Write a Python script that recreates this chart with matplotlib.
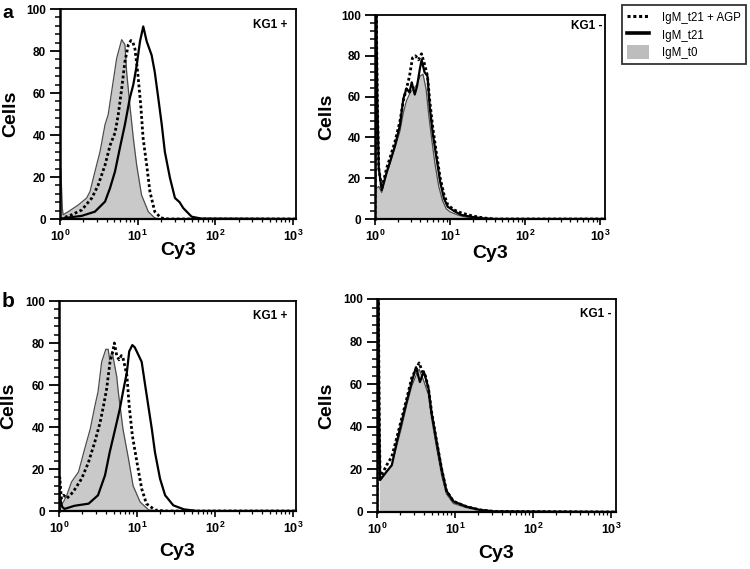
import numpy as np
import matplotlib
matplotlib.use('Agg')
import matplotlib.pyplot as plt
from matplotlib.ticker import MultipleLocator, FixedLocator, FixedFormatter, LogLocator, NullFormatter
from matplotlib.lines import Line2D
from matplotlib.patches import Patch

plt.rcParams['font.family'] = ['Liberation Sans', 'DejaVu Sans']
plt.rcParams['font.weight'] = 'bold'
plt.rcParams['mathtext.fontset'] = 'custom'
plt.rcParams['mathtext.rm'] = 'Liberation Sans:bold'
plt.rcParams['mathtext.bf'] = 'Liberation Sans:bold'

# ---------------- data (x in log10 Cy3 units, y = cells) ----------------
series_labels = ['IgM_t21 + AGP', 'IgM_t21', 'IgM_t0']
panel_titles = ['KG1 +', 'KG1 -', 'KG1 +', 'KG1 -']
x_tick_vals = [1, 10, 100, 1000]
x_tick_labels = [r'$\mathbf{10^{0}}$', r'$\mathbf{10^{1}}$', r'$\mathbf{10^{2}}$', r'$\mathbf{10^{3}}$']
y_tick_vals = [0, 20, 40, 60, 80, 100]

# panel a, KG1 +
a_pos_t0_log = [0.0, 0.01, 0.03, 0.04, 0.107, 0.236, 0.343, 0.386, 0.45, 0.515, 0.58, 0.62, 0.665,
                0.73, 0.794, 0.836, 0.858, 0.90, 0.944, 0.987, 1.05, 1.137, 1.22, 1.3, 3.05]
a_pos_t0_cells = [0, 24, 5, 2, 3.5, 6.7, 10, 13, 22.6, 32, 45, 49.6, 60.7,
                  76.6, 85.4, 83, 70, 54, 38.5, 25.7, 11.4, 3.5, 0.5, 0, 0]
a_pos_agp_log = [0.0, 0.04, 0.15, 0.28, 0.41, 0.49, 0.58, 0.644, 0.708, 0.75, 0.794, 0.836, 0.88,
                 0.914, 0.94, 0.965, 1.0, 1.04, 1.07, 1.116, 1.158, 1.22, 1.3, 1.4, 3.05]
a_pos_agp_cells = [0, 0.5, 2, 4.3, 10, 16, 25.7, 35, 41, 49.6, 62, 75, 83,
                   85, 84, 81, 70, 54, 38.5, 25.7, 13, 3.5, 0.5, 0, 0]
a_pos_t21_log = [0.0, 0.07, 0.28, 0.45, 0.58, 0.644, 0.708, 0.772, 0.836, 0.90, 0.944, 0.987, 1.03,
                 1.072, 1.116, 1.18, 1.22, 1.265, 1.31, 1.35, 1.416, 1.48, 1.54, 1.587, 1.695, 1.82, 3.05]
a_pos_t21_cells = [0, 0.5, 1.5, 3.5, 8.3, 14.7, 22.6, 34, 45, 57.7, 64, 73, 84.6,
                   91.7, 84.6, 78, 70, 57.7, 45, 32, 19.5, 10, 8, 5.2, 1.1, 0.2, 0]

# panel a, KG1 -
a_neg_t0_log = [0.02, 0.05, 0.09, 0.156, 0.2, 0.267, 0.333, 0.378, 0.42, 0.47, 0.52, 0.56, 0.6,
                0.64, 0.68, 0.72, 0.76, 0.8, 0.85, 0.9, 0.95, 1.0, 1.1, 1.2, 1.35, 1.5, 3.1]
a_neg_t0_cells = [15, 16, 13, 22, 27, 35, 43, 52, 58, 62, 64, 66, 70,
                  71, 64, 50, 38, 27, 16, 9, 5, 3.5, 2, 1, 0.3, 0, 0]
a_neg_agp_log = [0.0, 0.015, 0.03, 0.05, 0.09, 0.156, 0.2, 0.267, 0.333, 0.378, 0.42, 0.46, 0.5, 0.54,
                 0.58, 0.62, 0.66, 0.7, 0.73, 0.77, 0.82, 0.87, 0.92, 0.97, 1.05, 1.15, 1.3, 1.45, 1.6, 3.1]
a_neg_agp_cells = [0, 110, 60, 25, 15, 25, 30, 38, 48, 58, 64, 70, 79, 80,
                   78, 81, 76, 70, 58, 45, 32, 20, 12, 7, 4.5, 3, 1.5, 0.5, 0, 0]
a_neg_t21_log = [0.0, 0.015, 0.03, 0.05, 0.09, 0.156, 0.2, 0.267, 0.333, 0.378, 0.42, 0.46, 0.49, 0.53,
                 0.56, 0.6, 0.622, 0.66, 0.7, 0.73, 0.77, 0.82, 0.87, 0.92, 0.97, 1.05, 1.15, 1.3, 1.45, 1.6, 3.1]
a_neg_t21_cells = [0, 110, 60, 25, 14.2, 23, 28, 36, 46, 59, 64, 62, 67, 61,
                   65, 74, 78, 72, 70, 55, 42, 30, 18, 10, 6, 4, 2, 1, 0.3, 0, 0]

# panel b, KG1 +
b_pos_t0_log = [0.0, 0.01, 0.03, 0.06, 0.1, 0.16, 0.25, 0.33, 0.4, 0.46, 0.5, 0.547, 0.6, 0.63,
                0.65, 0.68, 0.71, 0.74, 0.76, 0.82, 0.89, 0.95, 1.04, 1.15, 1.3, 3.05]
b_pos_t0_cells = [0, 8, 3, 4.5, 7.5, 13.8, 18.6, 29.7, 39, 50, 56.7, 71, 77, 77,
                  72, 76, 70, 64, 56.7, 39, 25, 12, 4.3, 0.5, 0, 0]
b_pos_agp_log = [0.0, 0.01, 0.03, 0.06, 0.1, 0.18, 0.29, 0.376, 0.46, 0.526, 0.57, 0.61, 0.654, 0.69,
                 0.71, 0.74, 0.77, 0.8, 0.82, 0.87, 0.9, 0.94, 1.0, 1.06, 1.12, 1.23, 1.35, 3.05]
b_pos_agp_cells = [0, 16, 6, 7.5, 6, 9, 15.4, 23, 33, 42, 50, 58, 71, 76,
                   80, 74, 72, 74, 73, 64.6, 50, 36, 23, 10.6, 3.5, 0.5, 0, 0]
b_pos_t21_log = [0.0, 0.015, 0.04, 0.07, 0.2, 0.38, 0.5, 0.59, 0.65, 0.72, 0.78, 0.82, 0.87, 0.9,
                 0.94, 0.97, 1.0, 1.06, 1.1, 1.145, 1.19, 1.23, 1.295, 1.36, 1.465, 1.6, 1.77, 3.05]
b_pos_t21_cells = [0, 6, 2, 1, 2.5, 3.5, 7.5, 17, 28, 39, 48.7, 56.7, 66, 76,
                   79, 78, 75.7, 71, 61, 50, 39, 28, 15.4, 7.5, 2.7, 0.8, 0, 0]

# panel b, KG1 -
b_neg_t0_log = [0.03, 0.04, 0.124, 0.19, 0.254, 0.317, 0.38, 0.445, 0.51, 0.54, 0.595,
                0.66, 0.7, 0.765, 0.83, 0.89, 0.98, 1.15, 1.32, 1.5, 3.1]
b_neg_t0_cells = [15, 15, 19, 22, 31, 40, 50, 59, 65, 67, 62,
                  55, 44, 30, 17, 8.5, 4, 2, 0.8, 0.2, 0]
b_neg_agp_log = [0.0, 0.015, 0.03, 0.04, 0.124, 0.19, 0.254, 0.317, 0.38, 0.445, 0.5, 0.54,
                 0.58, 0.62, 0.66, 0.7, 0.765, 0.83, 0.89, 0.98, 1.15, 1.32, 1.5, 3.1]
b_neg_agp_cells = [0, 110, 40, 16, 22, 26, 35, 44, 53, 63, 67, 70,
                   66, 64, 58, 47, 33, 20, 10, 5, 2.5, 1, 0.3, 0]
b_neg_t21_log = [0.0, 0.015, 0.03, 0.04, 0.124, 0.19, 0.254, 0.317, 0.38, 0.445, 0.5, 0.55,
                 0.6, 0.66, 0.7, 0.765, 0.83, 0.89, 0.98, 1.15, 1.32, 1.5, 3.1]
b_neg_t21_cells = [0, 110, 40, 15, 19, 22, 33, 42.4, 51.8, 61, 68, 61,
                   66, 58, 46.5, 33, 20, 10, 5, 2.5, 1, 0.3, 0]

# ---------------- layout ----------------
W, H = 750, 569
fig = plt.figure(figsize=(W / 100, H / 100), dpi=100)

def add_ax(left, top, right, bottom):
    return fig.add_axes([left / W, 1 - bottom / H, (right - left) / W, (bottom - top) / H])

panels = [
    dict(box=(60, 9, 296, 219), xmax=3.0386, title=panel_titles[0], tpos=(0.962, 0.924), xl=-0.148,
         t0=(a_pos_t0_log, a_pos_t0_cells), agp=(a_pos_agp_log, a_pos_agp_cells), t21=(a_pos_t21_log, a_pos_t21_cells)),
    dict(box=(375, 15, 605, 219), xmax=3.067, title=panel_titles[1], tpos=(0.987, 0.946), xl=-0.169,
         t0=(a_neg_t0_log, a_neg_t0_cells), agp=(a_neg_agp_log, a_neg_agp_cells), t21=(a_neg_t21_log, a_neg_t21_cells)),
    dict(box=(59, 301, 296, 511), xmax=3.038, title=panel_titles[2], tpos=(0.962, 0.927), xl=-0.192,
         t0=(b_pos_t0_log, b_pos_t0_cells), agp=(b_pos_agp_log, b_pos_agp_cells), t21=(b_pos_t21_log, b_pos_t21_cells)),
    dict(box=(377, 299, 616, 512), xmax=3.064, title=panel_titles[3], tpos=(0.983, 0.93), xl=-0.195,
         t0=(b_neg_t0_log, b_neg_t0_cells), agp=(b_neg_agp_log, b_neg_agp_cells), t21=(b_neg_t21_log, b_neg_t21_cells)),
]

fill_color = '#c9c9c9'
outline_color = '#4d4d4d'

for p in panels:
    ax = add_ax(*p['box'])
    ax.set_xscale('log')
    ax.set_xlim(1, 10 ** p['xmax'])
    ax.set_ylim(0, 100)

    x0 = 10 ** np.array(p['t0'][0]); y0 = np.array(p['t0'][1])
    ax.fill_between(x0, y0, 0, color=fill_color, lw=0, zorder=1)
    ax.plot(x0, y0, color=outline_color, lw=0.9, zorder=2)
    x1 = 10 ** np.array(p['t21'][0]); y1 = np.array(p['t21'][1])
    ax.plot(x1, y1, color='black', lw=1.6, zorder=3)
    x2 = 10 ** np.array(p['agp'][0]); y2 = np.array(p['agp'][1])
    ax.plot(x2, y2, color='black', lw=2.0, dashes=(1, 0.9), zorder=4)

    for s in ['top', 'right']:
        ax.spines[s].set_linewidth(1.3)
    ax.spines['left'].set_linewidth(1.8)
    ax.spines['bottom'].set_linewidth(1.6)

    ax.yaxis.set_major_locator(FixedLocator(y_tick_vals))
    ax.yaxis.set_minor_locator(MultipleLocator(4))
    ax.xaxis.set_major_locator(FixedLocator(x_tick_vals))
    ax.xaxis.set_major_formatter(FixedFormatter(x_tick_labels))
    ax.xaxis.set_minor_locator(LogLocator(base=10, subs=np.arange(2, 10), numticks=20))
    ax.xaxis.set_minor_formatter(NullFormatter())
    ax.tick_params(axis='y', which='major', direction='out', length=7, width=1.3, labelsize=8.5, pad=3)
    ax.tick_params(axis='y', which='minor', direction='out', length=3.5, width=1.1)
    ax.tick_params(axis='x', which='major', direction='out', length=4, width=1.2, labelsize=9, pad=3)
    ax.tick_params(axis='x', which='minor', direction='out', length=2.5, width=0.9)
    for lab in ax.get_yticklabels():
        lab.set_fontweight('bold')

    ax.set_ylabel('Cells', fontsize=14, fontweight='bold')
    ax.yaxis.set_label_coords(-0.21, 0.5)
    ax.yaxis.label.set_va('center')
    ax.set_xlabel('Cy3', fontsize=14, fontweight='bold')
    ax.xaxis.set_label_coords(0.5, p['xl'])
    ax.xaxis.label.set_va('center')

    ax.text(p['tpos'][0], p['tpos'][1], p['title'], transform=ax.transAxes, ha='right', va='center',
            fontsize=8.5, fontweight='bold')

fig.text(2 / W, 1 - 18 / H, 'a', fontsize=14, fontweight='bold', ha='left', va='baseline')
fig.text(2 / W, 1 - 307 / H, 'b', fontsize=15, fontweight='bold', ha='left', va='baseline')

handles = [Line2D([], [], color='black', lw=2.2, dashes=(1, 0.9)),
           Line2D([], [], color='black', lw=2.6),
           Patch(facecolor='#bdbdbd', edgecolor='none')]
leg = fig.legend(handles, series_labels, loc='upper left', bbox_to_anchor=(622 / W, 1 - 5 / H),
                 bbox_transform=fig.transFigure, borderaxespad=0, fontsize=8.3, frameon=True,
                 fancybox=False, edgecolor='black', handlelength=1.9, handleheight=1.5,
                 handletextpad=1.1, labelspacing=0.3, borderpad=0.45)
leg.get_frame().set_linewidth(1.3)
for t in leg.get_texts():
    t.set_fontweight('normal')

fig.savefig('out.png', dpi=100)
